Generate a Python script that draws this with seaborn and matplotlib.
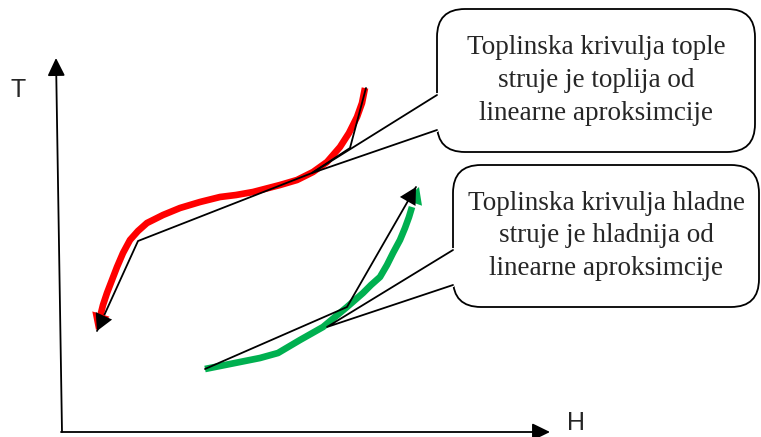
import numpy as np
import pandas as pd
import seaborn as sns
import matplotlib.pyplot as plt
from matplotlib.patches import FancyBboxPatch

sns.set_theme(style="white")
plt.rcParams['font.family'] = ['Liberation Sans', 'DejaVu Sans']

# Hot stream curve (red) and its linear approximation, picture pixels
hot_x = [365, 362, 357, 349, 340, 327, 313, 297, 280, 253, 236, 220, 200, 180,
         163, 147, 138, 130, 123, 117, 112, 107, 103, 100]
hot_y = [88, 103, 117, 133, 147, 162, 172, 180, 185, 192, 195, 197, 202, 208,
         215, 223, 231, 240, 253, 267, 280, 293, 305, 317]
hot_lin_x = [366, 350, 312, 138, 97]
hot_lin_y = [88, 148, 173, 241, 331]

# Cold stream curve (green) and its linear approximation
cold_x = [205, 240, 260, 278, 300, 323, 335, 347, 363, 371, 380, 387, 393, 400,
          405, 409, 412]
cold_y = [369, 362, 358, 353, 340, 327, 317, 307, 293, 285, 277, 265, 253, 240,
          228, 217, 207]
cold_lin_x = [205, 347, 416]
cold_lin_y = [369, 307, 187]

# Callouts: box (left, top, right, bottom), gap on left edge, pointer tip
callout_text = ["Toplinska krivulja tople\nstruje je toplija od\nlinearne aproksimcije",
                "Toplinska krivulja hladne\nstruje je hladnija od\nlinearne aproksimcije"]
callout_box = [(437, 9, 755, 152), (453, 165, 759, 307)]
callout_gap = [(95, 130), (250, 285)]
callout_tip = [(312, 173), (327, 327)]

RED = "#FF0000"
GREEN = "#00B050"

fig = plt.figure(figsize=(7.61, 4.37), dpi=100)
ax = fig.add_axes([0, 0, 1, 1])
ax.set_xlim(0, 761)
ax.set_ylim(437, 0)
ax.axis('off')

# axes of the diagram
arrow_kw = dict(arrowstyle='-|>,head_length=0.45,head_width=0.22', color='black',
                lw=1.3, mutation_scale=24, shrinkA=0, shrinkB=0)
ax.annotate('', xy=(56, 58), xytext=(62, 432), arrowprops=arrow_kw)
ax.annotate('', xy=(550, 432), xytext=(61, 432), arrowprops=arrow_kw)
ax.text(18, 90, 'T', fontsize=18, ha='center', va='center')
ax.text(576, 423, 'H', fontsize=18, ha='center', va='center')

# curves
hot = pd.DataFrame({'x': hot_x, 'y': hot_y})
cold = pd.DataFrame({'x': cold_x, 'y': cold_y})
sns.lineplot(data=hot, x='x', y='y', sort=False, estimator=None, color=RED,
             lw=4.8, ax=ax, solid_capstyle='butt', solid_joinstyle='round')
sns.lineplot(data=cold, x='x', y='y', sort=False, estimator=None, color=GREEN,
             lw=4.8, ax=ax, solid_capstyle='butt', solid_joinstyle='round')
head_kw = dict(arrowstyle='-|>,head_length=0.5,head_width=0.27', lw=0,
               mutation_scale=24, shrinkA=0, shrinkB=0)
ax.annotate('', xy=(96, 330), xytext=(hot_x[-1], hot_y[-1]),
            arrowprops=dict(color=RED, **head_kw))
ax.annotate('', xy=(419, 187), xytext=(cold_x[-1], cold_y[-1]),
            arrowprops=dict(color=GREEN, **head_kw))

# linear approximations
ax.plot(hot_lin_x, hot_lin_y, color='black', lw=1.3)
ax.plot(cold_lin_x, cold_lin_y, color='black', lw=1.3)
ax.annotate('', xy=(hot_lin_x[-1], hot_lin_y[-1]), xytext=(hot_lin_x[-2], hot_lin_y[-2]),
            arrowprops=dict(color='black', **head_kw))
ax.annotate('', xy=(cold_lin_x[-1], cold_lin_y[-1]), xytext=(cold_lin_x[-2], cold_lin_y[-2]),
            arrowprops=dict(color='black', **head_kw))

# callouts
for text, (l, t, r, b), (g0, g1), (tx, ty) in zip(callout_text, callout_box,
                                                   callout_gap, callout_tip):
    box = FancyBboxPatch((l, t), r - l, b - t,
                         boxstyle="round,pad=0,rounding_size=28",
                         fc='white', ec='black', lw=1.3, zorder=3)
    ax.add_patch(box)
    ax.plot([l, l], [g0, g1], color='white', lw=3, zorder=4)
    ax.plot([l, tx, l], [g0, ty, g1], color='black', lw=1.3, zorder=4)
    ax.text((l + r) / 2, (t + b) / 2, text, ha='center', va='center',
            fontsize=19.5, family=['Liberation Serif', 'DejaVu Serif'],
            linespacing=1.4, zorder=5)

fig.savefig('out.png', dpi=100)
